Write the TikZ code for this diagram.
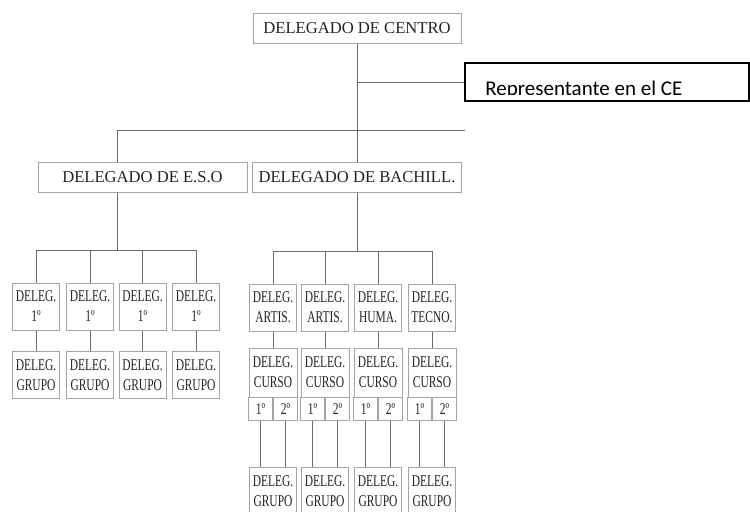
\documentclass[tikz,border=0pt]{standalone}
\usepackage{fontspec}
\setmainfont{Liberation Serif}
\newfontfamily\narrowserif[FakeStretch=0.7]{Liberation Serif}
\newfontfamily\calibri{Carlito}
\usetikzlibrary{positioning}

\definecolor{boxgray}{HTML}{A4A4A4}
\definecolor{linegray}{HTML}{6A6A6A}
\definecolor{inkgray}{HTML}{222222}

\begin{document}
\begin{tikzpicture}[
        x=0.5pt, y=-0.5pt,
        bigbox/.style={rectangle, draw=boxgray, line width=0.5pt, minimum width=104.5pt, minimum height=15pt, inner sep=0pt, text=inkgray, font=\fontsize{8.3}{10}\selectfont},
        smallbox/.style={rectangle, draw=boxgray, line width=0.5pt, minimum width=23.5pt, minimum height=23.5pt, inner sep=0pt, align=center, text=inkgray, font=\narrowserif\fontsize{8.2}{10}\selectfont},
        cell/.style={rectangle, draw=boxgray, line width=0.5pt, minimum width=12pt, minimum height=11.5pt, inner sep=0pt, outer sep=0pt, text=inkgray, font=\narrowserif\fontsize{8.2}{9}\selectfont},
        repbox/.style={rectangle, draw=black, line width=0.75pt, minimum width=142pt, minimum height=19pt, inner sep=0pt},
        link/.style={draw=linegray, line width=0.5pt}
    ]
        \useasboundingbox (0,0) rectangle (750,511);
        \clip (0,0) rectangle (750,511);

        % Top level
        \node (centro) [bigbox, minimum width=104pt] at (357,28) {DELEGADO DE CENTRO};
        \node (rep) [repbox] at (607,82) {};
        \begin{scope}
            \clip (465,63) rectangle (749,94);
            \node (reptext) [anchor=base west, inner sep=0pt, font=\calibri\fontsize{10.5}{12}\selectfont] at (485,95) {Representante en el CE};
        \end{scope}

        \node (eso) [bigbox] at (142.5,177) {DELEGADO DE E.S.O};
        \node (bach) [bigbox] at (357,177) {DELEGADO DE BACHILL.};

        \coordinate (barend) at (465,130);
        \draw [link] (centro.south) -- (bach.north);
        \draw [link] (centro.south |- rep.west) -- (rep.west);
        \draw [link] (barend) -| ([xshift=-12.75pt]eso.north);

        % E.S.O branch
        \coordinate (esobar) at (117,250);
        \draw [link] ([xshift=-12.75pt]eso.south) -- (esobar);
        \foreach \x [count=\i] in {36,90,142.5,196} {
            \node (eso\i) [smallbox] at (\x,306.5) {DELEG.\\1º};
            \node (esog\i) [smallbox] at (\x,375) {DELEG.\\GRUPO};
            \draw [link] (esobar) -| (eso\i.north);
            \draw [link] (eso\i) -- (esog\i);
        }

        % Bachillerato branch
        \coordinate (bachbar) at (357,251);
        \draw [link] (bach.south) -- (bachbar);
        \foreach \x/\area [count=\i] in {273/ARTIS., 325/ARTIS., 378/HUMA., 432/TECNO.} {
            \node (bach\i) [smallbox] at (\x,307.5) {DELEG.\\\area};
            \node (curso\i) [smallbox, minimum width=24pt, minimum height=24.5pt] at (\x,372.5) {DELEG.\\CURSO};
            \node (cursoa\i) [cell, anchor=north west] at (curso\i.south west) {1º};
            \node (cursob\i) [cell, anchor=north east] at (curso\i.south east) {2º};
            \node (bachg\i) [smallbox] at (\x,491) {DELEG.\\GRUPO};
            \draw [link] (bachbar) -| (bach\i.north);
            \draw [link] (bach\i) -- (curso\i);
            \draw [link] (cursoa\i) -- (cursoa\i |- bachg\i.north);
            \draw [link] (cursob\i) -- (cursob\i |- bachg\i.north);
        }
    \end{tikzpicture}
\end{document}
